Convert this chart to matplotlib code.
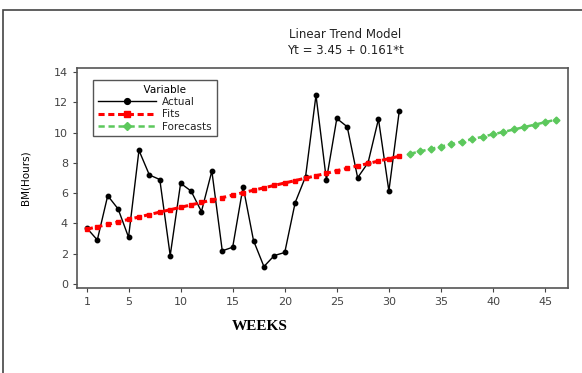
import matplotlib
matplotlib.use('Agg')
import matplotlib.pyplot as plt
from matplotlib.patches import Rectangle

# data
weeks = list(range(1, 32))
actual = [3.68, 2.9, 5.83, 4.95, 3.08, 8.83, 7.2, 6.9, 1.87, 6.65,
          6.14, 4.78, 7.46, 2.18, 2.42, 6.43, 2.86, 1.14, 1.87, 2.07,
          5.37, 7.09, 12.48, 6.87, 10.94, 10.39, 7.02, 8.01, 10.9, 6.14, 11.45]
fits = [3.61, 3.77, 3.93, 4.09, 4.26, 4.42, 4.58, 4.74, 4.90, 5.06,
        5.22, 5.38, 5.54, 5.70, 5.87, 6.03, 6.19, 6.35, 6.51, 6.67,
        6.83, 6.99, 7.15, 7.31, 7.48, 7.64, 7.80, 7.96, 8.12, 8.28, 8.44]
fc_weeks = list(range(32, 47))
forecasts = [8.60, 8.76, 8.92, 9.08, 9.25, 9.41, 9.57, 9.73, 9.89, 10.05,
             10.21, 10.37, 10.53, 10.69, 10.86]
xticks = [1, 5, 10, 15, 20, 25, 30, 35, 40, 45]
yticks = [0, 2, 4, 6, 8, 10, 12, 14]

plt.rcParams['font.family'] = ['DejaVu Sans']

fig = plt.figure(figsize=(5.82, 3.73), dpi=100)
W, H = 582, 373
ax = fig.add_axes([77 / W, 1 - 288 / H, (568 - 77) / W, (288 - 68) / H])

ax.plot(weeks, actual, color='black', lw=1, marker='o', ms=3.2, label='Actual')
ax.plot(weeks, fits, color='red', lw=2.2, ls=(0, (2, 1.2)), marker='s',
        ms=3.2, label='Fits')
ax.plot(fc_weeks, forecasts, color='#5cc85c', lw=1.8, ls=(0, (2.5, 1.5)),
        marker='D', ms=3.5, label='Forecasts')

ax.set_xlim(0.05, 47.2)
ax.set_ylim(-0.28, 14.28)
ax.set_xticks(xticks)
ax.set_yticks(yticks)
ax.tick_params(labelsize=8, length=3, width=0.8, colors='#444444')
for s in ax.spines.values():
    s.set_color('#555555')
    s.set_linewidth(1.2)

ax.set_ylabel('BM(Hours)', fontsize=7.5, labelpad=6)
ax.yaxis.set_label_coords(-0.095, 0.5)

leg = ax.legend(title='              Variable', loc='upper left',
                bbox_to_anchor=(16 / 491, 1 - 12 / 220), fontsize=7.5,
                title_fontsize=7.5, fancybox=False, framealpha=1,
                edgecolor='#555555', handlelength=5.6, borderpad=0.45,
                labelspacing=0.22, handletextpad=0.6, borderaxespad=0,
                markerscale=1.3)
leg.get_frame().set_linewidth(1)
leg._legend_box.align = 'left'
for t in leg.get_texts():
    t.set_color('#222222')

fig.text(345 / W, 1 - 34 / H, 'Linear Trend Model', ha='center', va='center',
         fontsize=8.5, color='#222222')
fig.text(345 / W, 1 - 50 / H, 'Yt = 3.45 + 0.161*t', ha='center', va='center',
         fontsize=8.5, color='#222222')
fig.text(260 / W, 1 - 327 / H, 'WEEKS', ha='center', va='center',
         fontsize=11, fontweight='bold', family='Liberation Serif')

# outer frame of the screenshot
fig.patches.append(Rectangle((3 / W, -0.05), 1.1, 1 - 10 / H + 0.05,
                             transform=fig.transFigure, fill=False,
                             edgecolor='#444444', lw=1.2))

fig.savefig('out.png', dpi=100)
